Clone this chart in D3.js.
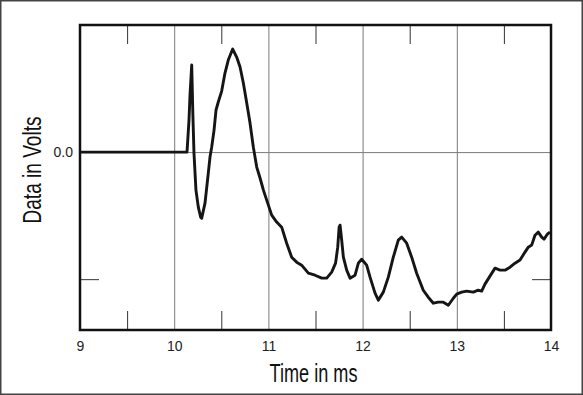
<!DOCTYPE html>
<html>
<head>
<meta charset="utf-8">
<script src="https://cdn.jsdelivr.net/npm/d3@7"></script>
<style>
  html, body { margin: 0; padding: 0; background: #fff; }
  svg { display: block; }
</style>
</head>
<body>
<svg id="chart"></svg>
<script>
// tempo (ms) e tensão (V)
const tempos = [9.0, 10.136, 10.157, 10.168, 10.186, 10.198, 10.210, 10.231, 10.256, 10.281, 10.292,
  10.327, 10.362, 10.380, 10.398, 10.423, 10.444, 10.468, 10.504, 10.539, 10.574, 10.621,
  10.663, 10.699, 10.734, 10.770, 10.805, 10.840, 10.876, 10.912, 10.947, 10.982, 11.035, 11.088,
  11.141, 11.194, 11.247, 11.300, 11.353, 11.424, 11.495, 11.566, 11.619, 11.672, 11.713, 11.736,
  11.751, 11.761, 11.778, 11.796, 11.831, 11.867, 11.920, 11.955, 11.990, 12.043, 12.079,
  12.132, 12.167, 12.220, 12.273, 12.326, 12.379, 12.415, 12.468, 12.521, 12.574, 12.644,
  12.697, 12.751, 12.804, 12.857, 12.910, 12.963, 12.999, 13.052, 13.105, 13.175, 13.228,
  13.264, 13.299, 13.352, 13.406, 13.459, 13.512, 13.565, 13.618, 13.671, 13.724, 13.759,
  13.795, 13.830, 13.865, 13.901, 13.926, 13.961, 13.989]

const volts = [0.0, 0.0, 0.25, 0.45, 0.685, 0.30, -0.008, -0.299, -0.433, -0.512, -0.520,
  -0.402, -0.165, -0.039, 0.039, 0.173, 0.331, 0.394, 0.480, 0.622, 0.724, 0.811,
  0.748, 0.669, 0.543, 0.386, 0.228, 0.039, -0.118, -0.206, -0.299, -0.378, -0.496, -0.551,
  -0.591, -0.717, -0.827, -0.866, -0.890, -0.953, -0.969, -0.992, -0.992, -0.945, -0.874, -0.748,
  -0.591, -0.575, -0.693, -0.827, -0.929, -0.992, -0.969, -0.874, -0.843, -0.890, -0.984,
  -1.110, -1.165, -1.102, -0.984, -0.827, -0.693, -0.669, -0.717, -0.827, -0.953, -1.087,
  -1.142, -1.189, -1.181, -1.181, -1.205, -1.150, -1.118, -1.102, -1.094, -1.102, -1.087,
  -1.094, -1.039, -0.976, -0.913, -0.929, -0.929, -0.906, -0.874, -0.850, -0.787, -0.748,
  -0.732, -0.654, -0.630, -0.669, -0.685, -0.646, -0.630]

const xTicks = [9, 10, 11, 12, 13, 14]
const xMinorTicks = [9.5, 10.5, 11.5, 12.5, 13.5]
const yTicks = [0]
const yTickLabels = ["0.0"]
const yMinorTicks = [-1]

const titleX = "Time in ms"
const titleY = "Data in Volts"

let svgWidth = 583
let svgHeight = 395
let margin = { left: 80, top: 25, right: 32, bottom: 65 }
let chartWidth = svgWidth - margin.left - margin.right
let chartHeight = svgHeight - margin.top - margin.bottom

const svg = d3.select("#chart")
  .attr("width", svgWidth)
  .attr("height", svgHeight)

// moldura exterior
svg.append("rect")
  .attr("x", 0.75).attr("y", 0.75)
  .attr("width", svgWidth - 1.5).attr("height", svgHeight - 1.5)
  .attr("fill", "#fff")
  .attr("stroke", "#444")
  .attr("stroke-width", 1.5)

const g = svg.append("g")
  .attr("transform", `translate(${margin.left},${margin.top})`)

let xScale = d3.scaleLinear().domain([9, 14]).range([0, chartWidth])
let yScale = d3.scaleLinear().domain([-1.4, 1.0]).range([chartHeight, 0])

// grelha
g.append("g")
  .attr("transform", `translate(0,${chartHeight})`)
  .call(d3.axisBottom(xScale).tickValues(xTicks.slice(1, -1)).tickSize(-chartHeight).tickFormat(""))
  .call(a => a.select(".domain").remove())
  .selectAll("line").attr("stroke", "#7a7a7a").attr("stroke-width", 1)

g.append("g")
  .call(d3.axisLeft(yScale).tickValues(yTicks).tickSize(-chartWidth).tickFormat(""))
  .call(a => a.select(".domain").remove())
  .selectAll("line").attr("stroke", "#7a7a7a").attr("stroke-width", 1)

// ticks pequenos (dentro)
const tickLen = 19
g.append("g")
  .attr("transform", `translate(0,${chartHeight})`)
  .call(d3.axisBottom(xScale).tickValues(xMinorTicks).tickSize(-tickLen).tickFormat(""))
  .call(a => a.select(".domain").remove())
  .selectAll("line").attr("stroke", "#333")

g.append("g")
  .call(d3.axisTop(xScale).tickValues(xMinorTicks).tickSize(-tickLen).tickFormat(""))
  .call(a => a.select(".domain").remove())
  .selectAll("line").attr("stroke", "#333")

g.append("g")
  .call(d3.axisLeft(yScale).tickValues(yMinorTicks).tickSize(-tickLen).tickFormat(""))
  .call(a => a.select(".domain").remove())
  .selectAll("line").attr("stroke", "#333")

g.append("g")
  .attr("transform", `translate(${chartWidth},0)`)
  .call(d3.axisRight(yScale).tickValues(yMinorTicks).tickSize(-tickLen).tickFormat(""))
  .call(a => a.select(".domain").remove())
  .selectAll("line").attr("stroke", "#333")

// labels dos eixos
g.append("g")
  .attr("transform", `translate(0,${chartHeight})`)
  .call(d3.axisBottom(xScale).tickValues(xTicks).tickSize(0).tickPadding(11).tickFormat(d3.format("d")))
  .call(a => a.select(".domain").remove())
  .selectAll("text")
  .attr("font-family", "'Liberation Sans', Arial, sans-serif")
  .attr("font-size", 14)
  .attr("fill", "#222")

g.append("g")
  .call(d3.axisLeft(yScale).tickValues(yTicks).tickSize(0).tickPadding(7).tickFormat((d, i) => yTickLabels[i]))
  .call(a => a.select(".domain").remove())
  .selectAll("text")
  .attr("font-family", "'Liberation Sans', Arial, sans-serif")
  .attr("font-size", 14)
  .attr("fill", "#222")

// linha do sinal
const linha = d3.line()
  .x((d, i) => xScale(tempos[i]))
  .y(d => yScale(d))

g.append("path")
  .datum(volts)
  .attr("d", linha)
  .attr("fill", "none")
  .attr("stroke", "#151515")
  .attr("stroke-width", 2.9)
  .attr("stroke-linejoin", "round")

// moldura do gráfico
g.append("rect")
  .attr("width", chartWidth)
  .attr("height", chartHeight)
  .attr("fill", "none")
  .attr("stroke", "#111")
  .attr("stroke-width", 2.5)

// títulos
svg.append("text")
  .attr("x", margin.left + chartWidth / 2 - 2)
  .attr("y", 382)
  .attr("text-anchor", "middle")
  .attr("font-family", "'Liberation Sans Narrow', 'Liberation Sans', Arial, sans-serif")
  .attr("font-size", 26)
  .attr("fill", "#111")
  .attr("textLength", 88)
  .attr("lengthAdjust", "spacingAndGlyphs")
  .text(titleX)

svg.append("text")
  .attr("transform", `translate(41,170) rotate(-90)`)
  .attr("text-anchor", "middle")
  .attr("font-family", "'Liberation Sans Narrow', 'Liberation Sans', Arial, sans-serif")
  .attr("font-size", 26)
  .attr("fill", "#111")
  .attr("textLength", 107)
  .attr("lengthAdjust", "spacingAndGlyphs")
  .text(titleY)
</script>
</body>
</html>
